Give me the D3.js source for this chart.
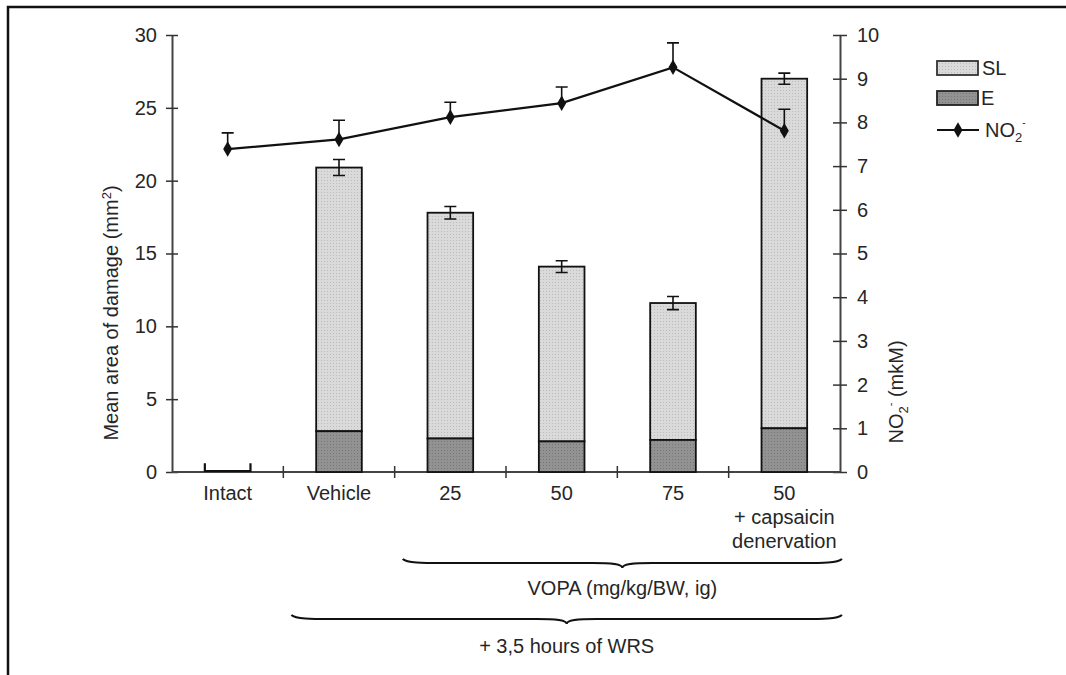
<!DOCTYPE html>
<html>
<head>
<meta charset="utf-8">
<script src="https://d3js.org/d3.v7.min.js"></script>
<style>
  body { margin: 0; background: #fff; }
  text { font-family: "Liberation Sans", Arial, sans-serif; fill: #262626; }
</style>
</head>
<body>
<script>
  // values
  var categories = ["Intact", "Vehicle", "25", "50", "75", "50 + capsaicin"];
  var categoryLines = [["Intact"], ["Vehicle"], ["25"], ["50"], ["75"], ["50", "+ capsaicin", "denervation"]];
  var valuesE = [0, 2.8, 2.3, 2.1, 2.2, 3.0];
  var valuesSL = [0.6, 18.1, 15.5, 12.0, 9.4, 24.0];
  var errTotal = [0, 0.55, 0.43, 0.4, 0.45, 0.38];
  var valuesNO2 = [7.39, 7.61, 8.12, 8.44, 9.26, 7.81];
  var errNO2 = [0.37, 0.44, 0.34, 0.37, 0.56, 0.49];
  var leftTicks = [0, 5, 10, 15, 20, 25, 30];
  var rightTicks = [0, 1, 2, 3, 4, 5, 6, 7, 8, 9, 10];

  var width = 1066, height = 675;
  var svg = d3.select("body").append("svg")
    .attr("width", width)
    .attr("height", height);

  var defs = svg.append("defs");
  function dots(id, base, dot) {
    var p = defs.append("pattern").attr("id", id)
      .attr("width", 3).attr("height", 3)
      .attr("patternUnits", "userSpaceOnUse");
    p.append("rect").attr("width", 3).attr("height", 3).attr("fill", base);
    p.append("rect").attr("width", 1).attr("height", 1).attr("fill", dot);
  }
  dots("patSL", "#dadada", "#bcbcbc");
  dots("patE", "#929292", "#777");

  // frame (top + left edge only, like the cropped original)
  svg.append("path")
    .attr("d", "M8," + height + "V7H" + width)
    .attr("fill", "none").attr("stroke", "#111").attr("stroke-width", 2.5);

  var x = d3.scaleBand().domain(categories).range([172, 840]).padding(0);
  var yL = d3.scaleLinear().domain([0, 30]).range([472, 35]);
  var yR = d3.scaleLinear().domain([0, 10]).range([472, 35]);
  var barW = x.bandwidth() * 0.41;
  var fs = 20;

  // left axis
  var gL = svg.append("g").attr("transform", "translate(172,0)")
    .call(d3.axisLeft(yL).tickValues(leftTicks).tickSizeInner(6).tickSizeOuter(0).tickPadding(9));
  gL.selectAll(".tick line").attr("x1", 6);
  // right axis
  var gR = svg.append("g").attr("transform", "translate(840,0)")
    .call(d3.axisRight(yR).tickValues(rightTicks).tickSizeInner(7).tickSizeOuter(0).tickPadding(10));
  gR.selectAll(".tick line").attr("x1", -7);

  [gL, gR].forEach(function(g) {
    g.select(".domain").attr("stroke", "#444").attr("stroke-width", 2);
    g.selectAll(".tick line").attr("stroke", "#333").attr("stroke-width", 1.5);
    g.selectAll(".tick text").style("font-size", fs + "px").attr("fill", "#262626");
  });

  // x axis line with ticks on the band borders
  var gX = svg.append("g").attr("transform", "translate(0,472)");
  gX.append("line").attr("x1", 172).attr("x2", 840)
    .attr("stroke", "#444").attr("stroke-width", 2);
  gX.selectAll(".xt").data(categories.slice(1)).enter().append("line")
    .attr("x1", function(d) { return x(d); })
    .attr("x2", function(d) { return x(d); })
    .attr("y1", -6).attr("y2", 6)
    .attr("stroke", "#333").attr("stroke-width", 1.5);

  // category labels
  categories.forEach(function(c, i) {
    var t = svg.append("text")
      .attr("x", x(c) + x.bandwidth() / 2)
      .attr("y", 500)
      .attr("text-anchor", "middle")
      .style("font-size", fs + "px");
    categoryLines[i].forEach(function(line, j) {
      t.append("tspan").attr("x", x(c) + x.bandwidth() / 2)
        .attr("dy", j === 0 ? 0 : 24).text(line);
    });
  });

  // stacked bars
  var bars = svg.append("g");
  categories.forEach(function(c, i) {
    var bx = x(c) + (x.bandwidth() - barW) / 2;
    var top = valuesE[i] + valuesSL[i];
    if (valuesE[i] === 0) {
      // near-empty bar, open top
      bars.append("path")
        .attr("d", "M" + bx + "," + yL(top) + "V" + (yL(0) - 1) + "H" + (bx + barW) + "V" + yL(top))
        .attr("fill", "none").attr("stroke", "#111").attr("stroke-width", 2.2);
      return;
    }
    bars.append("rect")
      .attr("x", bx).attr("width", barW)
      .attr("y", yL(top)).attr("height", yL(valuesE[i]) - yL(top))
      .attr("fill", "url(#patSL)").attr("stroke", "#111").attr("stroke-width", 1.8);
    bars.append("rect")
      .attr("x", bx).attr("width", barW)
      .attr("y", yL(valuesE[i])).attr("height", yL(0) - yL(valuesE[i]))
      .attr("fill", "url(#patE)").attr("stroke", "#111").attr("stroke-width", 1.8);
    // error bar
    var cx = x(c) + x.bandwidth() / 2;
    var e = errTotal[i];
    bars.append("path")
      .attr("d", "M" + cx + "," + yL(top + e) + "V" + yL(top - e) +
        "M" + (cx - 6) + "," + yL(top + e) + "H" + (cx + 6) +
        "M" + (cx - 6) + "," + yL(top - e) + "H" + (cx + 6))
      .attr("fill", "none").attr("stroke", "#111").attr("stroke-width", 1.6);
  });

  // NO2 line
  var pts = categories.map(function(c, i) {
    return [x(c) + x.bandwidth() / 2, yR(valuesNO2[i])];
  });
  svg.append("path")
    .attr("d", d3.line()(pts))
    .attr("fill", "none").attr("stroke", "#111").attr("stroke-width", 2.2);

  var diamond = d3.symbol().type(d3.symbolDiamond).size(70);
  pts.forEach(function(p, i) {
    var yTop = yR(valuesNO2[i] + errNO2[i]);
    svg.append("path")
      .attr("d", "M" + p[0] + "," + p[1] + "V" + yTop +
        "M" + (p[0] - 6) + "," + yTop + "H" + (p[0] + 6))
      .attr("fill", "none").attr("stroke", "#111").attr("stroke-width", 1.6);
    svg.append("path")
      .attr("d", diamond())
      .attr("transform", "translate(" + p[0] + "," + p[1] + ")")
      .attr("fill", "#111");
  });

  // braces
  function brace(x1, x2, y0) {
    var xm = (x1 + x2) / 2, f = y0 + 4, tip = y0 + 9;
    return "M" + x1 + "," + y0 +
      "C" + (x1 + 4) + "," + f + " " + (x1 + 20) + "," + f + " " + (x1 + 40) + "," + f +
      "L" + (xm - 30) + "," + f +
      "C" + (xm - 10) + "," + f + " " + xm + "," + (f + 1) + " " + xm + "," + tip +
      "C" + xm + "," + (f + 1) + " " + (xm + 10) + "," + f + " " + (xm + 30) + "," + f +
      "L" + (x2 - 40) + "," + f +
      "C" + (x2 - 20) + "," + f + " " + (x2 - 4) + "," + f + " " + x2 + "," + y0;
  }
  var b1x1 = x(categories[2]) + 8, b2x1 = x(categories[1]) + 8, bx2 = 842;
  svg.append("path").attr("d", brace(b1x1, bx2, 559))
    .attr("fill", "none").attr("stroke", "#111").attr("stroke-width", 2);
  svg.append("path").attr("d", brace(b2x1, bx2, 615))
    .attr("fill", "none").attr("stroke", "#111").attr("stroke-width", 2);
  svg.append("text").attr("x", (b1x1 + bx2) / 2).attr("y", 595)
    .attr("text-anchor", "middle").style("font-size", fs + "px")
    .text("VOPA (mg/kg/BW, ig)");
  svg.append("text").attr("x", (b2x1 + bx2) / 2).attr("y", 653)
    .attr("text-anchor", "middle").style("font-size", fs + "px")
    .text("+ 3,5 hours of WRS");

  // axis titles
  var tl = svg.append("text")
    .attr("transform", "translate(118,313) rotate(-90)")
    .attr("text-anchor", "middle").style("font-size", "20px");
  tl.append("tspan").text("Mean area of damage (mm");
  tl.append("tspan").attr("dy", -7).style("font-size", "13px").text("2");
  tl.append("tspan").attr("dy", 7).text(")");

  var tr = svg.append("text")
    .attr("transform", "translate(903,392) rotate(-90)")
    .attr("text-anchor", "middle").style("font-size", "20px");
  tr.append("tspan").text("NO");
  tr.append("tspan").attr("dy", 5).style("font-size", "13px").text("2");
  tr.append("tspan").attr("dy", -14).style("font-size", "11px").text("-");
  tr.append("tspan").attr("dy", 9).text("  (mkM)");

  // legend
  var lg = svg.append("g");
  lg.append("rect").attr("x", 937).attr("y", 61).attr("width", 41).attr("height", 14)
    .attr("fill", "url(#patSL)").attr("stroke", "#333").attr("stroke-width", 1.8);
  lg.append("rect").attr("x", 937).attr("y", 91).attr("width", 41).attr("height", 14)
    .attr("fill", "url(#patE)").attr("stroke", "#222").attr("stroke-width", 1.8);
  lg.append("line").attr("x1", 937).attr("x2", 979).attr("y1", 130).attr("y2", 130)
    .attr("stroke", "#111").attr("stroke-width", 2);
  lg.append("path").attr("d", diamond()).attr("transform", "translate(958,130)").attr("fill", "#111");
  lg.append("text").attr("x", 982).attr("y", 75).style("font-size", fs + "px").text("SL");
  lg.append("text").attr("x", 981).attr("y", 105).style("font-size", fs + "px").text("E");
  var ln = lg.append("text").attr("x", 985).attr("y", 137).style("font-size", fs + "px");
  ln.append("tspan").text("NO");
  ln.append("tspan").attr("dy", 5).style("font-size", "13px").text("2");
  ln.append("tspan").attr("dy", -16).style("font-size", "10px").text("-");
</script>
</body>
</html>
